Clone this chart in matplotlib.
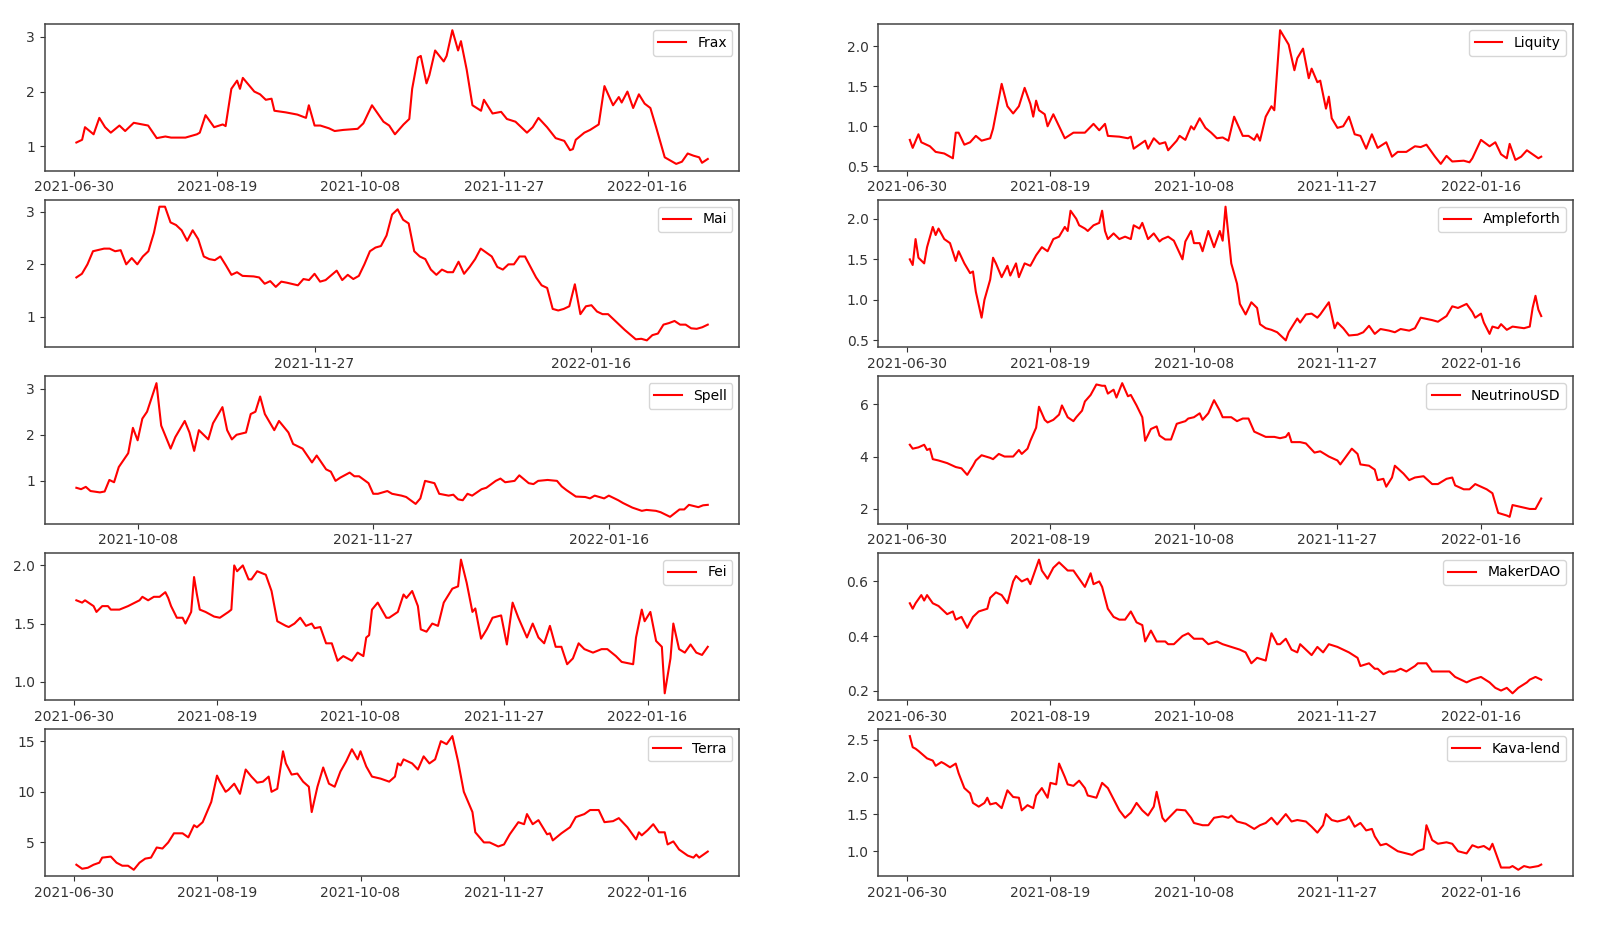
import pandas as pd
import matplotlib
matplotlib.use('Agg')
import matplotlib.pyplot as plt
import matplotlib.dates as mdates

# (day offset from series start, value)
full_start = '2021-07-01'
mai_start = '2021-10-15'
spell_start = '2021-09-25'

frax = [(0,1.07),(2,1.12),(3,1.35),(6,1.22),(8,1.52),(10,1.35),(12,1.25),(15,1.38),(17,1.28),(20,1.43),(25,1.38),(28,1.15),(31,1.18),(33,1.16),(38,1.16),(42,1.22),(43,1.25),(45,1.57),(48,1.35),(51,1.40),(52,1.37),(54,2.05),(56,2.2),(57,2.05),(58,2.25),(62,2.0),(64,1.95),(66,1.85),(68,1.87),(69,1.65),(73,1.62),(77,1.58),(80,1.52),(81,1.75),(83,1.38),(85,1.38),(88,1.33),(90,1.28),(93,1.30),(98,1.32),(100,1.42),(103,1.75),(107,1.45),(109,1.38),(111,1.22),(114,1.40),(116,1.50),(117,2.05),(119,2.62),(120,2.65),(122,2.15),(123,2.3),(125,2.75),(128,2.55),(129,2.65),(131,3.12),(133,2.75),(134,2.92),(136,2.4),(138,1.75),(141,1.65),(142,1.85),(145,1.6),(148,1.63),(150,1.5),(153,1.45),(157,1.25),(159,1.35),(161,1.52),(164,1.35),(167,1.15),(170,1.10),(172,0.93),(173,0.95),(174,1.12),(177,1.25),(179,1.3),(182,1.4),(184,2.1),(187,1.75),(189,1.9),(190,1.8),(192,2.0),(194,1.7),(196,1.95),(198,1.78),(200,1.7),(202,1.35),(205,0.8),(209,0.68),(211,0.72),(213,0.87),(215,0.83),(217,0.8),(218,0.7),(220,0.77)]

liquity = [(0,0.83),(1,0.73),(3,0.9),(4,0.8),(7,0.75),(9,0.68),(12,0.66),(15,0.6),(16,0.92),(17,0.92),(19,0.77),(21,0.8),(23,0.88),(25,0.82),(28,0.85),(29,0.97),(32,1.53),(34,1.25),(36,1.16),(38,1.25),(40,1.48),(42,1.28),(43,1.12),(44,1.32),(45,1.2),(47,1.15),(48,1.0),(50,1.15),(52,1.0),(54,0.85),(57,0.92),(61,0.92),(64,1.03),(66,0.95),(68,1.03),(69,0.88),(73,0.87),(76,0.85),(77,0.87),(78,0.72),(82,0.82),(83,0.72),(85,0.85),(87,0.78),(89,0.8),(90,0.7),(93,0.82),(94,0.88),(96,0.83),(98,1.0),(99,0.96),(101,1.1),(103,0.98),(105,0.92),(107,0.85),(109,0.86),(111,0.82),(113,1.12),(116,0.88),(118,0.88),(120,0.83),(121,0.9),(122,0.82),(124,1.12),(126,1.25),(127,1.2),(129,2.2),(132,2.02),(134,1.7),(135,1.85),(137,1.97),(139,1.6),(140,1.72),(142,1.55),(143,1.57),(145,1.22),(146,1.37),(147,1.1),(149,0.98),(151,1.0),(153,1.12),(155,0.9),(157,0.88),(159,0.72),(161,0.9),(163,0.73),(166,0.8),(168,0.62),(170,0.68),(173,0.68),(176,0.75),(178,0.74),(180,0.77),(183,0.62),(185,0.53),(187,0.63),(189,0.56),(193,0.57),(195,0.55),(196,0.6),(199,0.83),(202,0.75),(204,0.8),(206,0.65),(208,0.6),(209,0.78),(211,0.58),(213,0.62),(215,0.7),(217,0.65),(219,0.6),(220,0.62)]

mai = [(0,1.75),(1,1.82),(2,2.0),(3,2.25),(5,2.3),(6,2.3),(7,2.25),(8,2.27),(9,2.0),(10,2.12),(11,2.0),(12,2.15),(13,2.25),(14,2.6),(15,3.1),(16,3.1),(17,2.8),(18,2.75),(19,2.65),(20,2.45),(21,2.65),(22,2.48),(23,2.15),(24,2.1),(25,2.08),(26,2.15),(27,1.98),(28,1.8),(29,1.85),(30,1.78),(32,1.77),(33,1.75),(34,1.63),(35,1.68),(36,1.57),(37,1.67),(38,1.65),(40,1.6),(41,1.72),(42,1.7),(43,1.82),(44,1.67),(45,1.7),(47,1.88),(48,1.7),(49,1.8),(50,1.72),(51,1.78),(52,2.0),(53,2.25),(54,2.32),(55,2.35),(56,2.55),(57,2.95),(58,3.05),(59,2.85),(60,2.78),(61,2.25),(62,2.15),(63,2.1),(64,1.9),(65,1.8),(66,1.9),(67,1.85),(68,1.85),(69,2.05),(70,1.82),(71,1.95),(72,2.1),(73,2.3),(75,2.15),(76,1.95),(77,1.9),(78,2.0),(79,2.0),(80,2.15),(81,2.15),(82,1.95),(83,1.75),(84,1.6),(85,1.55),(86,1.15),(87,1.12),(88,1.15),(89,1.2),(90,1.62),(91,1.05),(92,1.2),(93,1.22),(94,1.1),(95,1.05),(96,1.05),(97,0.95),(99,0.75),(101,0.57),(102,0.58),(103,0.55),(104,0.65),(105,0.68),(106,0.85),(107,0.88),(108,0.92),(109,0.85),(110,0.85),(111,0.78),(112,0.77),(113,0.8),(114,0.85)]

ampleforth = [(0,1.5),(1,1.43),(2,1.75),(3,1.52),(5,1.45),(6,1.65),(8,1.9),(9,1.8),(10,1.88),(12,1.75),(14,1.7),(16,1.48),(17,1.6),(19,1.45),(21,1.33),(22,1.35),(23,1.1),(25,0.78),(26,1.0),(28,1.25),(29,1.52),(30,1.45),(32,1.28),(34,1.42),(35,1.3),(37,1.45),(38,1.28),(40,1.45),(42,1.42),(44,1.55),(46,1.65),(48,1.6),(50,1.75),(52,1.78),(54,1.9),(55,1.85),(56,2.1),(58,2.0),(59,1.92),(61,1.88),(62,1.85),(64,1.92),(66,1.95),(67,2.1),(68,1.85),(69,1.75),(71,1.82),(73,1.75),(75,1.78),(77,1.75),(78,1.92),(80,1.88),(81,1.95),(83,1.75),(85,1.82),(87,1.72),(88,1.75),(90,1.78),(92,1.73),(95,1.5),(96,1.72),(98,1.85),(99,1.7),(101,1.7),(102,1.6),(104,1.85),(106,1.65),(108,1.85),(109,1.73),(110,2.15),(112,1.45),(114,1.2),(115,0.95),(117,0.82),(119,0.97),(121,0.9),(122,0.7),(124,0.65),(126,0.63),(128,0.6),(131,0.5),(132,0.6),(135,0.77),(136,0.72),(138,0.82),(140,0.83),(142,0.78),(143,0.82),(146,0.97),(148,0.65),(149,0.72),(151,0.65),(153,0.56),(156,0.57),(158,0.6),(160,0.68),(162,0.58),(164,0.64),(167,0.62),(169,0.6),(171,0.64),(174,0.62),(176,0.65),(178,0.78),(182,0.75),(184,0.73),(187,0.8),(189,0.92),(191,0.9),(194,0.95),(196,0.85),(197,0.78),(199,0.83),(200,0.72),(202,0.58),(203,0.67),(205,0.65),(206,0.7),(208,0.63),(210,0.67),(214,0.65),(216,0.67),(217,0.9),(218,1.05),(219,0.88),(220,0.8)]

spell = [(0,0.85),(1,0.82),(2,0.87),(3,0.78),(5,0.75),(6,0.77),(7,1.02),(8,0.97),(9,1.3),(11,1.6),(12,2.15),(13,1.88),(14,2.35),(15,2.5),(17,3.12),(18,2.2),(20,1.7),(21,1.95),(23,2.3),(24,2.05),(25,1.65),(26,2.1),(28,1.9),(29,2.25),(31,2.6),(32,2.1),(33,1.9),(34,2.0),(36,2.05),(37,2.45),(38,2.5),(39,2.83),(40,2.45),(42,2.1),(43,2.3),(45,2.05),(46,1.8),(48,1.7),(50,1.4),(51,1.55),(53,1.25),(54,1.2),(55,1.0),(56,1.07),(58,1.18),(59,1.1),(60,1.1),(62,0.95),(63,0.72),(64,0.72),(66,0.78),(67,0.72),(69,0.68),(70,0.65),(72,0.5),(73,0.62),(74,1.0),(76,0.95),(77,0.72),(79,0.68),(80,0.7),(81,0.6),(82,0.58),(83,0.72),(84,0.68),(86,0.82),(87,0.85),(89,1.0),(90,1.05),(91,0.97),(93,1.0),(94,1.12),(96,0.95),(97,0.93),(98,1.0),(100,1.02),(102,1.0),(103,0.88),(104,0.8),(106,0.66),(108,0.65),(109,0.62),(110,0.68),(112,0.62),(113,0.68),(115,0.58),(116,0.52),(118,0.42),(120,0.35),(121,0.37),(123,0.35),(124,0.32),(126,0.22),(127,0.3),(128,0.38),(129,0.38),(130,0.48),(132,0.43),(133,0.47),(134,0.48)]

neutrino = [(0,4.45),(1,4.3),(3,4.35),(5,4.45),(6,4.25),(7,4.3),(8,3.9),(10,3.85),(13,3.75),(15,3.65),(16,3.6),(18,3.55),(20,3.3),(22,3.65),(23,3.85),(25,4.05),(28,3.95),(29,3.9),(31,4.1),(33,4.0),(36,4.0),(38,4.25),(39,4.1),(41,4.3),(42,4.6),(44,5.1),(45,5.9),(47,5.4),(48,5.3),(50,5.4),(52,5.6),(53,5.95),(55,5.5),(57,5.35),(58,5.5),(60,5.75),(61,6.1),(63,6.35),(65,6.75),(67,6.7),(68,6.7),(69,6.4),(71,6.55),(72,6.25),(74,6.8),(76,6.3),(77,6.35),(79,5.95),(81,5.5),(82,4.6),(84,5.05),(86,5.15),(87,4.8),(89,4.65),(91,4.65),(93,5.25),(96,5.35),(97,5.45),(99,5.5),(101,5.65),(102,5.4),(104,5.65),(106,6.15),(108,5.75),(109,5.5),(112,5.5),(114,5.35),(116,5.45),(118,5.45),(120,4.95),(122,4.85),(124,4.75),(127,4.75),(129,4.7),(131,4.75),(132,4.9),(133,4.55),(136,4.55),(138,4.5),(141,4.15),(143,4.2),(146,4.0),(149,3.85),(150,3.7),(152,4.0),(154,4.3),(156,4.1),(157,3.7),(160,3.65),(162,3.5),(163,3.1),(165,3.15),(166,2.85),(168,3.2),(169,3.65),(172,3.35),(174,3.1),(176,3.2),(179,3.25),(182,2.95),(184,2.95),(187,3.15),(189,3.2),(190,2.9),(193,2.75),(195,2.75),(197,2.95),(199,2.85),(201,2.75),(203,2.6),(205,1.85),(208,1.75),(209,1.7),(210,2.15),(212,2.1),(214,2.05),(216,2.0),(218,2.0),(220,2.4)]

fei = [(0,1.70),(2,1.68),(3,1.70),(6,1.65),(7,1.6),(9,1.65),(11,1.65),(12,1.62),(15,1.62),(18,1.65),(22,1.7),(23,1.73),(25,1.7),(27,1.73),(29,1.73),(31,1.77),(32,1.72),(33,1.65),(35,1.55),(37,1.55),(38,1.5),(40,1.6),(41,1.9),(42,1.75),(43,1.62),(45,1.6),(48,1.56),(50,1.55),(53,1.6),(54,1.62),(55,2.0),(56,1.95),(58,2.0),(60,1.88),(61,1.88),(63,1.95),(66,1.92),(68,1.78),(70,1.52),(73,1.48),(74,1.47),(76,1.5),(78,1.55),(80,1.48),(82,1.50),(83,1.46),(85,1.47),(87,1.33),(89,1.33),(91,1.18),(93,1.22),(96,1.18),(98,1.25),(100,1.22),(101,1.38),(102,1.4),(103,1.62),(105,1.68),(108,1.55),(109,1.55),(112,1.6),(114,1.75),(115,1.72),(117,1.78),(119,1.65),(120,1.45),(122,1.43),(124,1.5),(126,1.48),(128,1.68),(131,1.8),(133,1.82),(134,2.05),(136,1.85),(138,1.6),(139,1.63),(141,1.37),(143,1.45),(145,1.55),(148,1.57),(150,1.32),(152,1.68),(154,1.55),(157,1.38),(159,1.5),(161,1.38),(163,1.33),(165,1.48),(167,1.3),(169,1.3),(171,1.15),(173,1.2),(175,1.33),(177,1.28),(180,1.25),(183,1.28),(185,1.28),(188,1.22),(190,1.17),(194,1.15),(195,1.38),(197,1.62),(198,1.52),(200,1.6),(202,1.35),(204,1.3),(205,0.9),(207,1.2),(208,1.5),(210,1.28),(212,1.25),(214,1.32),(216,1.25),(218,1.23),(220,1.3)]

makerdao = [(0,0.52),(1,0.5),(2,0.52),(4,0.55),(5,0.53),(6,0.55),(8,0.52),(10,0.51),(13,0.48),(15,0.49),(16,0.46),(18,0.47),(20,0.43),(22,0.47),(24,0.49),(27,0.5),(28,0.54),(30,0.56),(32,0.55),(34,0.52),(36,0.6),(37,0.62),(39,0.6),(41,0.61),(42,0.59),(45,0.68),(46,0.64),(48,0.61),(50,0.65),(52,0.67),(53,0.66),(55,0.64),(57,0.64),(59,0.61),(61,0.58),(63,0.63),(64,0.59),(66,0.6),(67,0.58),(69,0.5),(71,0.47),(73,0.46),(75,0.46),(77,0.49),(79,0.45),(81,0.44),(82,0.38),(84,0.42),(86,0.38),(89,0.38),(90,0.37),(92,0.37),(95,0.4),(97,0.41),(99,0.39),(102,0.39),(104,0.37),(107,0.38),(109,0.37),(112,0.36),(115,0.35),(117,0.34),(119,0.3),(121,0.32),(124,0.31),(126,0.41),(128,0.37),(129,0.37),(131,0.39),(133,0.35),(135,0.34),(136,0.37),(138,0.35),(140,0.33),(142,0.36),(144,0.34),(146,0.37),(149,0.36),(151,0.35),(153,0.34),(156,0.32),(157,0.29),(160,0.3),(162,0.28),(163,0.28),(165,0.26),(167,0.27),(169,0.27),(171,0.28),(173,0.27),(176,0.29),(177,0.3),(180,0.3),(182,0.27),(185,0.27),(188,0.27),(190,0.25),(192,0.24),(194,0.23),(196,0.24),(199,0.25),(202,0.23),(204,0.21),(206,0.2),(208,0.21),(210,0.19),(212,0.21),(215,0.23),(216,0.24),(218,0.25),(220,0.24)]

terra = [(0,2.8),(2,2.4),(4,2.5),(6,2.8),(8,3.0),(9,3.5),(12,3.6),(14,3.0),(16,2.7),(18,2.7),(20,2.3),(22,3.0),(24,3.4),(26,3.5),(28,4.5),(30,4.4),(32,5.0),(34,5.9),(37,5.9),(39,5.5),(41,6.7),(42,6.5),(44,7.0),(47,9.0),(49,11.6),(50,11.0),(52,10.0),(53,10.2),(55,10.8),(57,9.8),(59,12.2),(61,11.5),(63,10.9),(65,11.0),(67,11.5),(68,10.0),(70,10.3),(72,14.0),(73,12.8),(75,11.7),(77,11.8),(79,11.0),(81,10.5),(82,8.0),(84,10.5),(86,12.4),(88,10.8),(90,10.5),(92,12.0),(94,13.0),(96,14.2),(98,13.2),(99,14.0),(101,12.5),(103,11.5),(106,11.3),(109,11.0),(111,11.5),(112,12.8),(113,12.6),(114,13.2),(117,12.8),(119,12.2),(121,13.5),(123,12.8),(125,13.2),(127,15.0),(129,14.7),(131,15.5),(133,13.0),(135,10.0),(138,8.0),(139,6.0),(142,5.0),(144,5.0),(147,4.6),(149,4.8),(151,5.8),(154,7.0),(156,6.8),(157,7.8),(159,6.8),(161,7.2),(164,5.8),(165,5.9),(166,5.2),(169,5.9),(172,6.5),(174,7.5),(177,7.8),(179,8.2),(182,8.2),(184,7.0),(187,7.1),(189,7.4),(192,6.5),(195,5.3),(196,6.0),(197,5.7),(199,6.2),(201,6.8),(203,6.0),(205,6.0),(206,4.8),(208,5.1),(210,4.3),(213,3.7),(215,3.5),(216,3.8),(217,3.5),(220,4.1)]

kava = [(0,2.55),(1,2.4),(2,2.38),(3,2.35),(6,2.25),(8,2.22),(9,2.15),(11,2.2),(12,2.18),(14,2.13),(16,2.18),(17,2.05),(19,1.85),(21,1.78),(22,1.65),(24,1.6),(26,1.65),(27,1.72),(28,1.63),(30,1.65),(32,1.58),(34,1.82),(36,1.73),(38,1.72),(39,1.55),(41,1.62),(43,1.58),(44,1.75),(46,1.85),(48,1.72),(49,1.92),(51,1.9),(52,2.18),(54,2.0),(55,1.9),(57,1.88),(59,1.95),(61,1.85),(62,1.75),(65,1.72),(67,1.92),(69,1.85),(71,1.7),(73,1.55),(75,1.45),(77,1.52),(79,1.65),(81,1.55),(83,1.48),(85,1.6),(86,1.8),(88,1.45),(89,1.4),(91,1.48),(93,1.56),(96,1.55),(98,1.45),(99,1.38),(102,1.35),(104,1.35),(106,1.45),(109,1.47),(111,1.45),(112,1.48),(114,1.4),(117,1.37),(120,1.3),(122,1.35),(124,1.38),(126,1.45),(128,1.36),(131,1.5),(133,1.4),(135,1.42),(138,1.4),(140,1.33),(142,1.25),(144,1.35),(145,1.5),(147,1.42),(149,1.4),(152,1.43),(153,1.47),(155,1.33),(157,1.38),(159,1.28),(161,1.3),(162,1.2),(164,1.08),(166,1.1),(168,1.05),(170,1.0),(173,0.97),(175,0.95),(177,1.0),(179,1.03),(180,1.35),(182,1.15),(184,1.1),(187,1.12),(189,1.1),(191,1.0),(194,0.97),(196,1.08),(198,1.05),(200,1.07),(202,1.02),(203,1.1),(206,0.78),(209,0.78),(210,0.8),(212,0.75),(214,0.8),(216,0.78),(219,0.8),(220,0.82)]

# left column then right column, top to bottom
left_panels = [('Frax', full_start, frax, [1, 2, 3]),
               ('Mai', mai_start, mai, [1, 2, 3]),
               ('Spell', spell_start, spell, [1, 2, 3]),
               ('Fei', full_start, fei, [1.0, 1.5, 2.0]),
               ('Terra', full_start, terra, [5, 10, 15])]
right_panels = [('Liquity', full_start, liquity, [0.5, 1.0, 1.5, 2.0]),
                ('Ampleforth', full_start, ampleforth, [0.5, 1.0, 1.5, 2.0]),
                ('NeutrinoUSD', full_start, neutrino, [2, 4, 6]),
                ('MakerDAO', full_start, makerdao, [0.2, 0.4, 0.6]),
                ('Kava-lend', full_start, kava, [1.0, 1.5, 2.0, 2.5])]

tick_dates = pd.date_range('2021-06-30', periods=5, freq='50D')

fig, axes = plt.subplots(5, 2, figsize=(16, 9.26), dpi=100)
fig.subplots_adjust(left=0.028, right=0.983, top=0.9746, bottom=0.0535,
                    wspace=0.2, hspace=0.2)

for col, panels in enumerate([left_panels, right_panels]):
    for row, (name, start, data, yt) in enumerate(panels):
        ax = axes[row, col]
        days, vals = zip(*data)
        dates = pd.Timestamp(start) + pd.to_timedelta(list(days), unit='D')
        ax.plot(dates, vals, color='red', linewidth=1.5, label=name)
        ax.legend(loc='upper right', fontsize=10)

        lo, hi = ax.get_xlim()
        ticks = [t for t in tick_dates if lo <= mdates.date2num(t) <= hi]
        ax.set_xticks(ticks)
        ax.xaxis.set_major_formatter(mdates.DateFormatter('%Y-%m-%d'))
        ax.set_xlim(lo, hi)
        ax.set_yticks(yt)
        ax.tick_params(labelsize=10, colors='#333333')
        for s in ax.spines.values():
            s.set_color('#444444')
            s.set_linewidth(1.1)

plt.savefig('out.png', dpi=100)
